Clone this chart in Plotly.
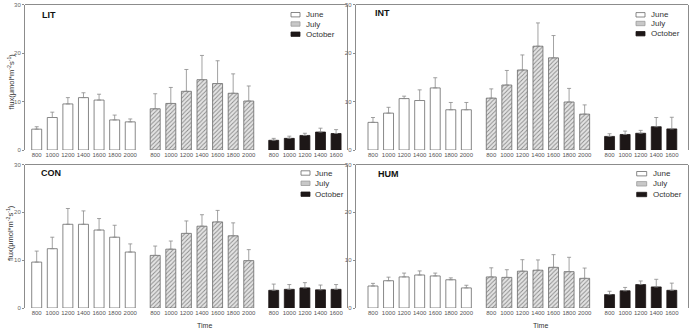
import plotly.graph_objects as go

# ---------------- data ----------------
times_long = ["800", "1000", "1200", "1400", "1600", "1800", "2000"]
times_oct = ["800", "1000", "1200", "1400", "1600"]
months = ["June", "July", "October"]
sites = ["LIT", "INT", "CON", "HUM"]

lit_june = [4.3, 6.7, 9.5, 10.8, 10.3, 6.2, 5.8]
lit_june_err = [0.5, 1.1, 1.3, 1.0, 1.2, 1.0, 0.6]
lit_july = [8.5, 9.6, 12.1, 14.5, 13.7, 11.7, 10.1]
lit_july_err = [3.1, 3.3, 4.5, 5.0, 4.7, 4.0, 3.1]
lit_oct = [2.0, 2.4, 3.0, 3.7, 3.4]
lit_oct_err = [0.4, 0.45, 0.45, 0.8, 0.8]

int_june = [5.7, 7.6, 10.6, 10.2, 12.8, 8.3, 8.3]
int_june_err = [1.0, 1.2, 0.5, 2.2, 2.1, 1.5, 1.5]
int_july = [10.7, 13.4, 16.5, 21.4, 19.0, 9.9, 7.4]
int_july_err = [1.9, 3.0, 3.1, 4.8, 4.6, 2.8, 1.9]
int_oct = [2.8, 3.2, 3.45, 4.8, 4.35]
int_oct_err = [0.55, 0.7, 0.6, 1.9, 2.4]

con_june = [9.6, 12.4, 17.5, 17.5, 16.3, 14.8, 11.7]
con_june_err = [2.3, 2.4, 3.3, 2.8, 2.4, 2.5, 1.7]
con_july = [11.0, 12.3, 15.6, 17.1, 18.0, 15.1, 9.9]
con_july_err = [1.95, 1.7, 2.6, 2.4, 2.4, 2.7, 2.3]
con_oct = [3.7, 3.9, 4.2, 3.8, 3.9]
con_oct_err = [1.3, 1.0, 1.1, 1.0, 1.0]

hum_june = [4.6, 5.7, 6.5, 6.9, 6.7, 5.9, 4.2]
hum_june_err = [0.55, 0.75, 0.8, 0.85, 0.6, 0.4, 0.55]
hum_july = [6.5, 6.4, 7.7, 7.9, 8.5, 7.6, 6.2]
hum_july_err = [1.9, 1.6, 2.4, 2.15, 2.65, 3.0, 2.15]
hum_oct = [2.8, 3.6, 4.9, 4.4, 3.7]
hum_oct_err = [0.7, 0.7, 0.75, 1.6, 1.5]

y_ticks = [0, 10, 20, 30]

# ---------------- layout helpers ----------------
W, H = 689, 332
FONT = "Arial, Liberation Sans, sans-serif"


def fx(p):
    return p / W


def fy(p):
    return (H - p) / H


group_offsets = [0.0, 7.6, 15.2]
month_times = [times_long, times_long, times_oct]

panel_data = {
    "LIT": [(lit_june, lit_june_err), (lit_july, lit_july_err), (lit_oct, lit_oct_err)],
    "INT": [(int_june, int_june_err), (int_july, int_july_err), (int_oct, int_oct_err)],
    "CON": [(con_june, con_june_err), (con_july, con_july_err), (con_oct, con_oct_err)],
    "HUM": [(hum_june, hum_june_err), (hum_july, hum_july_err), (hum_oct, hum_oct_err)],
}

# pixel geometry of each panel: (left, right, top, bottom)
geom = {
    "LIT": (25, 347, 4.5, 150),
    "INT": (355.7, 688, 4.5, 150),
    "CON": (25, 347, 164.5, 308),
    "HUM": (355.7, 688, 164.5, 308),
}
xranges = {
    "LIT": [-0.75, 19.9],
    "INT": [-1.11, 20.24],
    "CON": [-0.75, 19.9],
    "HUM": [-1.11, 20.24],
}

LINE = "#8c8c8c"
EDGE = "#6a6a6a"
ERR = "#8a8a8a"
DARK = "#1d1717"

bar_styles = [
    dict(color="white", line=dict(color=EDGE, width=0.8)),
    dict(color="#e4e4e4", line=dict(color=EDGE, width=0.8),
         pattern=dict(shape="/", fgcolor="#8a8a8a", bgcolor="#e4e4e4", size=3, solidity=0.3)),
    dict(color=DARK, line=dict(color=DARK, width=0.8)),
]

fig = go.Figure()
shapes = []
annotations = []

for k, site in enumerate(sites):
    idx = "" if k == 0 else str(k + 1)
    xa, ya = "x" + idx, "y" + idx
    tickvals, ticktext = [], []
    for m, (vals, errs) in enumerate(panel_data[site]):
        xs = [group_offsets[m] + i for i in range(len(vals))]
        tickvals += xs
        ticktext += month_times[m]
        fig.add_trace(go.Bar(
            x=xs, y=vals, width=0.64, name=months[m], showlegend=False,
            marker=bar_styles[m],
            error_y=dict(type="data", symmetric=False, array=errs,
                         arrayminus=[0] * len(errs), color=ERR, thickness=0.8, width=2),
            xaxis=xa, yaxis=ya,
        ))
    l, r, t, b = geom[site]
    fig.update_layout(**{
        "xaxis" + idx: dict(domain=[fx(l), fx(r)], range=xranges[site], anchor=ya,
                            tickvals=tickvals, ticktext=ticktext, tickangle=0,
                            showgrid=False, zeroline=False, showline=False, ticks="",
                            tickfont=dict(size=6, color="#555", family=FONT),
                            automargin=False),
        "yaxis" + idx: dict(domain=[fy(b), fy(t)], range=[0, 30], anchor=xa,
                            tickvals=y_ticks, ticks="outside", ticklen=2, tickwidth=0.8,
                            tickcolor=LINE, showline=True, mirror=True, linecolor=LINE,
                            linewidth=1, showgrid=False, zeroline=False,
                            tickfont=dict(size=6, color="#666", family=FONT),
                            automargin=False),
    })
    # top frame line
    shapes.append(dict(type="line", xref=xa + " domain", yref=ya + " domain",
                       x0=0, x1=1, y0=1, y1=1, line=dict(color=LINE, width=1)))

# panel labels
label_pos = {"LIT": (40, 15), "INT": (373, 13.5), "CON": (39.3, 173.3), "HUM": (375.7, 174.3)}
for site in sites:
    x, y = label_pos[site]
    annotations.append(dict(x=fx(x), y=fy(y), xref="paper", yref="paper", text="<b>%s</b>" % site,
                            showarrow=False, xanchor="left", yanchor="middle",
                            font=dict(size=9, color="#111", family=FONT)))

# manual legends: (swatch left, swatch right, text x, [centers y])
leg_pos = {
    "LIT": (291, 300, 304, [14.7, 24.0, 34.2]),
    "INT": (636, 645, 649, [14.8, 23.5, 33.7]),
    "CON": (301, 310, 313, [173.0, 183.3, 194.2]),
    "HUM": (636.7, 646.7, 651, [173.7, 183.8, 194.5]),
}
sw_styles = [
    dict(fillcolor="white", line=dict(color=EDGE, width=0.8)),
    dict(fillcolor="#c8c8c8", line=dict(color="#9a9a9a", width=0.8)),
    dict(fillcolor=DARK, line=dict(color=DARK, width=0.8)),
]
for site in sites:
    x0, x1, tx, ys = leg_pos[site]
    for m in range(3):
        cy = ys[m]
        shapes.append(dict(type="rect", xref="paper", yref="paper",
                           x0=fx(x0), x1=fx(x1), y0=fy(cy + 2.2), y1=fy(cy - 2.2), **sw_styles[m]))
        annotations.append(dict(x=fx(tx), y=fy(cy), xref="paper", yref="paper", text=months[m],
                                showarrow=False, xanchor="left", yanchor="middle",
                                font=dict(size=8, color="#333", family=FONT)))

# axis titles
ytitle = "flux(μmol*m<sup>-2</sup>s<sup>-1</sup>)"
for cy in (81.5, 233):
    annotations.append(dict(x=fx(10), y=fy(cy), xref="paper", yref="paper", text=ytitle,
                            textangle=-90, showarrow=False, xanchor="center", yanchor="middle",
                            font=dict(size=7.5, color="#333", family=FONT)))
for cx in (204, 540):
    annotations.append(dict(x=fx(cx), y=fy(325.5), xref="paper", yref="paper", text="Time",
                            showarrow=False, xanchor="center", yanchor="middle",
                            font=dict(size=7, color="#333", family=FONT)))

fig.update_layout(
    template="none",
    width=W, height=H,
    margin=dict(l=0, r=0, t=0, b=0),
    paper_bgcolor="white", plot_bgcolor="white",
    barmode="overlay",
    showlegend=False,
    shapes=shapes,
    annotations=annotations,
    font=dict(family=FONT),
)

fig.write_html("out.html",
               config={"displayModeBar": False},
               post_script="document.body.style.margin='0px';document.body.style.padding='0px';")
